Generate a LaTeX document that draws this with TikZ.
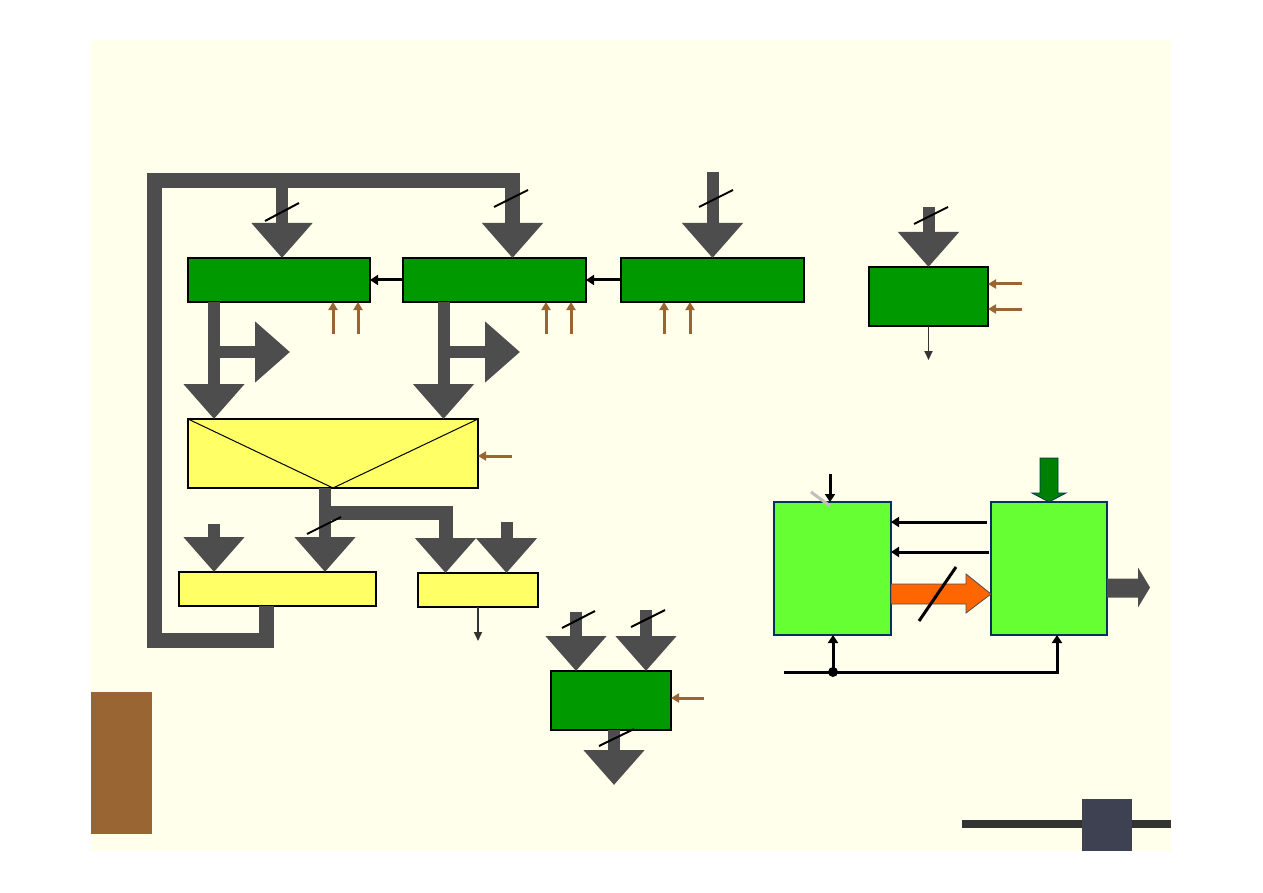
\documentclass[tikz,border=0pt]{standalone}
\usetikzlibrary{arrows.meta}
\definecolor{bgy}{HTML}{FFFFEB}
\definecolor{busgrey}{HTML}{4D4D4D}
\definecolor{dkgreen}{HTML}{009900}
\definecolor{ylw}{HTML}{FFFF66}
\definecolor{brn}{HTML}{996633}
\definecolor{ltgreen}{HTML}{66FF33}
\definecolor{navy}{HTML}{003355}
\definecolor{org}{HTML}{FF6600}
\definecolor{mgreen}{HTML}{008000}
\definecolor{dk}{HTML}{333333}
\definecolor{sq}{HTML}{3E4152}
\begin{document}
\begin{tikzpicture}[x=1pt,y=-1pt,
  box/.style={draw=black,line width=1.3pt,inner sep=0pt,outer sep=0pt},
  gbox/.style={box,fill=dkgreen},
  ybox/.style={box,fill=ylw},
  lbox/.style={draw=navy,line width=1.3pt,fill=ltgreen,inner sep=0pt,outer sep=0pt},
  bus/.style={draw=busgrey,line width=12pt,line join=miter,-{Triangle[width=59pt,length=35pt]}},
  slash/.style={draw=black,line width=2pt},
  brnarrow/.style={draw=brn,line width=3pt,-{Triangle[length=8pt,width=9pt]}},
  blk/.style={draw=black,line width=3pt,-{Triangle[length=8pt,width=10pt]}},
  thn/.style={draw=dk,line width=1.8pt,-{Triangle[length=9pt,width=8pt]}}
]
\useasboundingbox (0,0) rectangle (1263,893);
\fill[white] (0,0) rectangle (1263,893);
\fill[bgy] (91,40) rectangle (1171,851);

% boxes
\node[gbox,minimum width=182pt,minimum height=44pt] (r1) at (279,280) {};
\node[gbox,minimum width=183pt,minimum height=44pt] (r2) at (494.5,280) {};
\node[gbox,minimum width=183pt,minimum height=44pt] (r3) at (712.5,280) {};
\node[gbox,minimum width=119pt,minimum height=59pt] (r4) at (928.5,296.5) {};
\node[ybox,minimum width=290pt,minimum height=69pt] (mux) at (333,453.5) {};
\node[ybox,minimum width=197pt,minimum height=34pt] (y1) at (277.5,589) {};
\node[ybox,minimum width=120pt,minimum height=34pt] (y2) at (478,590) {};
\node[gbox,minimum width=120pt,minimum height=59pt] (g5) at (611,700.5) {};
\node[lbox,minimum width=117pt,minimum height=133pt] (A) at (832.5,568.5) {};
\node[lbox,minimum width=116pt,minimum height=133pt] (B) at (1049,568.5) {};

\draw[line width=1pt] (mux.north west) -- (mux.south) -- (mux.north east);

% feedback loop
\coordinate (lpa) at (266,640);
\coordinate (lpb) at (154,640);
\coordinate (lpc) at (154,181);
\coordinate (lpd) at (512.5,181);
\draw[bus,line width=15pt] ([xshift=-11.5pt]y1.south) -- (lpa) -- (lpb) -- (lpc) -- (lpd) -- ([xshift=18pt]r2.north);
\coordinate (lpe) at (282,181);
\draw[bus] (lpe) -- ([xshift=3pt]r1.north);
\coordinate (t3) at (712.5,172);
\draw[bus] (t3) -- (r3.north);

% register outputs
\coordinate (o1) at ([xshift=-65pt]r1.south);
\draw[bus] (o1) -- (o1 |- mux.north);
\coordinate (o1a) at (214,352);
\coordinate (o1b) at (290,352);
\draw[bus] (o1a) -- (o1b);
\coordinate (o2) at ([xshift=-51pt]r2.south);
\draw[bus] (o2) -- (o2 |- mux.north);
\coordinate (o2a) at (443.5,352);
\coordinate (o2b) at (520,352);
\draw[bus] (o2a) -- (o2b);

% mux outputs
\coordinate (m0) at ([xshift=-8pt]mux.south);
\draw[bus] (m0) -- (m0 |- y1.north);
\coordinate (mb) at (325,513);
\coordinate (mc) at (445.5,513);
\draw[bus,line width=14pt] (mb) -- (mc) -- (mc |- y2.north);
\coordinate (s1) at (214,524);
\draw[bus] (s1) -- (s1 |- y1.north);
\coordinate (s2) at (506.5,522);
\draw[bus] (s2) -- (s2 |- y2.north);
\draw[thn] (y2.south) -- ++(0,34);

% bottom middle register
\coordinate (g5a) at (576,612);
\draw[bus] (g5a) -- (g5a |- g5.north);
\coordinate (g5b) at (646,610);
\draw[bus] (g5b) -- (g5b |- g5.north);
\coordinate (g5e) at (614,785);
\draw[bus] ([xshift=3pt]g5.south) -- (g5e);
\coordinate (pg) at (704,698);
\draw[brnarrow] (pg) -- (pg -| g5.east);

% right register
\coordinate (t4) at (928.5,207);
\draw[bus] (t4) -- (r4.north);
\coordinate (p41) at (1022,284);
\coordinate (p42) at (1022,309);
\draw[brnarrow] (p41) -- (p41 -| r4.east);
\draw[brnarrow] (p42) -- (p42 -| r4.east);
\coordinate (r4o) at (928.5,360);
\draw[thn] (r4.south) -- (r4o);

% black arrows between registers
\draw[blk] (r2.west) -- (r1.east);
\draw[blk] (r3.west) -- (r2.east);

% brown control arrows
\foreach \x/\n in {333/r1,358/r1,546/r2,571/r2,664/r3,690/r3}{
  \coordinate (pp) at (\x,334);
  \draw[brnarrow] (pp) -- (pp |- \n.south);
}
\coordinate (pm) at (512,456);
\draw[brnarrow] (pm) -- (pm -| mux.east);

% slashes
\draw[slash] (265,221) -- (299,203);
\draw[slash] (494,207) -- (528,190);
\draw[slash] (699,207) -- (733,190);
\draw[slash] (914,224) -- (948,207);
\draw[slash] (307,534) -- (341,517);
\draw[slash] (562,628) -- (595,611);
\draw[slash] (631,627) -- (665,610);
\draw[slash] (599,746) -- (634,729);

% bottom right system
\coordinate (q1) at (987,522);
\coordinate (q2) at (989,552);
\draw[blk] (q1) -- (q1 -| A.east);
\draw[blk] (q2) -- (q2 -| A.east);
\filldraw[fill=org,draw=busgrey,line width=0.8pt] ([yshift=-25.5pt]A.east) ++(0,-10) -- ++(75,0) -- ++(0,-10) -- ++(25,20) -- ++(-25,19) -- ++(0,-9) -- ++(-75,0) -- cycle;
\draw[draw=black,line width=3pt] (919,621) -- (956,567);
\fill[busgrey] ([yshift=-9.5pt]B.east) ++(0,0.5) -- ++(31,0) -- ++(0,-11) -- ++(12,20) -- ++(-12,20) -- ++(0,-10) -- ++(-31,0) -- cycle;
\filldraw[fill=mgreen,draw=navy,line width=0.8pt] (B.north) -- ++(-17,-9) -- ++(8,0) -- ++(0,-35) -- ++(18,0) -- ++(0,35) -- ++(8,0) -- cycle;
\draw[line width=3pt,draw=lightgray] (811,492) -- (830,506);
\coordinate (ai) at (830,474);
\draw[blk] (ai) -- (ai |- A.north);
\coordinate (l0) at (784,672);
\coordinate (l1) at (1057,672);
\coordinate (ld) at (833,672);
\draw[blk] (l0) -- (l1) -- (l1 |- B.south);
\draw[blk] (ld) -- (ld |- A.south);
\fill[black] (ld) circle (5pt);

% decorations
\fill[brn] (91,692) rectangle (152,834);
\fill[dk] (962,820) rectangle (1171,828);
\fill[sq] (1082,799) rectangle (1132,851);
\end{tikzpicture}
\end{document}
